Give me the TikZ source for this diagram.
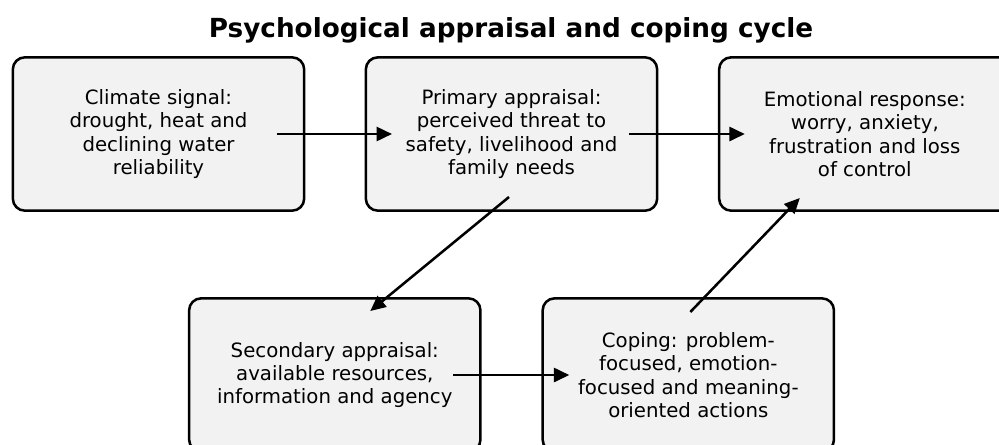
\documentclass[tikz,border=0pt]{standalone}
\usepackage{fontspec}
\setmainfont{DejaVu Sans}
\usetikzlibrary{arrows.meta,calc}
\definecolor{boxfill}{HTML}{F2F2F2}
\begin{document}
\begin{tikzpicture}[x=0.75pt,y=-0.75pt,
  stage/.style={draw=black, line width=1.9pt, fill=boxfill, rounded corners=9pt,
    minimum width=218.5pt, minimum height=115pt, inner sep=0pt, outer sep=0pt,
    align=center, font=\fontsize{14.8}{17.5}\selectfont},
  flow/.style={-{Triangle[length=11.5pt,width=10.5pt]}, line width=1.9pt},
  titlestyle/.style={font=\bfseries\fontsize{19.7}{23}\selectfont, inner sep=0pt}]
\clip (0,0) rectangle (999,444);
\node[titlestyle] (title) at (511,30) {Psychological appraisal and coping cycle};
\node[stage] (b1) at (158.5,134) {Climate signal:\\drought, heat and\\declining water\\reliability};
\node[stage] (b2) at (511.5,134) {Primary appraisal:\\perceived threat to\\safety, livelihood and\\family needs};
\node[stage] (b3) at (864.8,134) {Emotional response:\\worry, anxiety,\\frustration and loss\\of control};
\node[stage] (b4) at (334.8,375) {Secondary appraisal:\\available resources,\\information and agency};
\node[stage] (b5) at (688.3,375) {Coping: problem-\\focused, emotion-\\focused and meaning-\\oriented actions};
\coordinate (a1s) at ($(b1.center)+(118,0)$);
\coordinate (a1e) at ($(b2.center)+(-119.5,0)$);
\coordinate (a2s) at ($(b2.center)+(117.5,0)$);
\coordinate (a2e) at ($(b3.center)+(-120,0)$);
\coordinate (a3s) at ($(b2.center)+(-2.5,63)$);
\coordinate (a3e) at ($(b4.center)+(35.5,-64)$);
\coordinate (a4s) at ($(b4.center)+(118.5,0)$);
\coordinate (a4e) at ($(b5.center)+(-119,0)$);
\coordinate (a5s) at ($(b5.center)+(2,-63)$);
\coordinate (a5e) at ($(b3.center)+(-65,64)$);
\draw[flow] (a1s) -- (a1e);
\draw[flow] (a2s) -- (a2e);
\draw[flow] (a3s) -- (a3e);
\draw[flow] (a4s) -- (a4e);
\draw[flow] (a5s) -- (a5e);
\end{tikzpicture}
\end{document}
